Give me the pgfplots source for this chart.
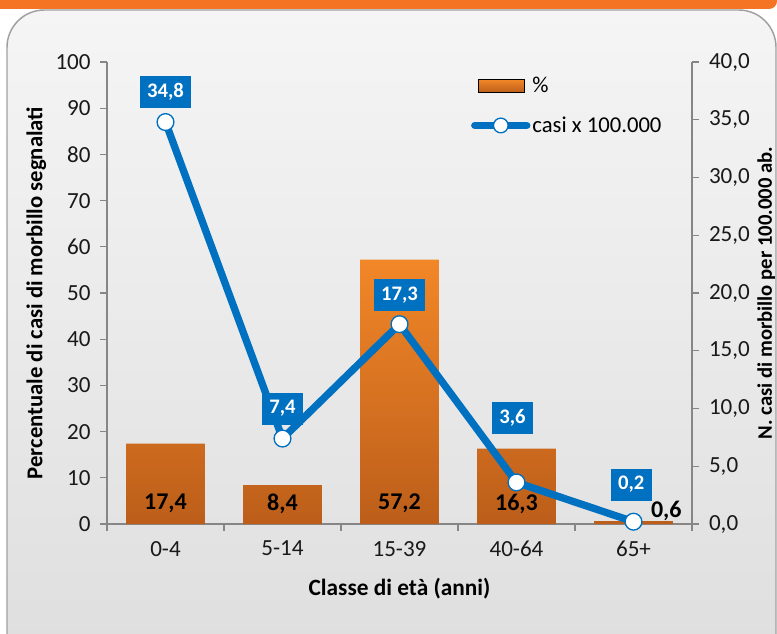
\documentclass[border=0pt]{standalone}
\usepackage{fontspec}
\setmainfont{Carlito}
\usepackage{pgfplots}
\usepackage{pgfplotstable}
\pgfplotsset{compat=1.18}

\definecolor{barTop}{RGB}{242,135,40}
\definecolor{barBot}{RGB}{188,94,26}
\definecolor{lineBlue}{RGB}{0,112,192}
\definecolor{axGray}{RGB}{134,134,134}
\definecolor{stripOr}{RGB}{244,116,36}
\definecolor{panTop}{RGB}{245,245,245}
\definecolor{panBot}{RGB}{222,222,222}
\definecolor{panBorder}{RGB}{160,160,160}

\pgfplotstableread{
x y
0 17.4
1 8.4
2 57.2
3 16.3
4 0.6
}\bardata

\pgfplotstableread{
x y
0 34.8
1 7.4
2 17.3
3 3.6
4 0.2
}\linedata

\pgfplotstableread{
x y label
0 4.4 17,4
1 4.4 8,4
2 4.4 57,2
3 4.4 16,3
4.28 2.8 0,6
}\barlabels

\pgfplotstableread{
x y label
0 37.4 34,8
1 10.0 7,4
2 19.8 17,3
2.966 9.22 3,6
3.98 3.42 0,2
}\linelabels

\newcommand{\tickfont}{\fontsize{17.3}{20}\selectfont}
\newcommand{\legfont}{\fontsize{17}{20}\selectfont}
\newcommand{\barlabfont}{\bfseries\fontsize{18}{20}\selectfont}

\begin{document}
\begin{tikzpicture}[x=0.75pt,y=0.75pt]
\path[use as bounding box] (0,0) rectangle (777,633);
\begin{scope}
\clip (0,0) rectangle (777,633);
\fill[white] (0,0) rectangle (777,633);
\fill[stripOr, rounded corners=6] (-10,624) rectangle (777,660);
\draw[panBorder, line width=1.1pt, top color=panTop, bottom color=panBot, rounded corners=28] (7,-40) rectangle (776,623);
\end{scope}

\begin{axis}[
  at={(80.25pt,81.75pt)}, anchor=south west,
  scale only axis, width=438.75pt, height=346.5pt,
  xmin=-0.5, xmax=4.5, ymin=0, ymax=100,
  enlargelimits=false, clip=false,
  axis x line*=bottom, axis y line*=left,
  ytick={0,10,...,100},
  xtick={0,1,2,3,4},
  xticklabels={0-4,5-14,15-39,40-64,65+},
  minor xtick={-0.5,0.5,1.5,2.5,3.5,4.5},
  tick align=outside,
  major tick length=5.25pt, minor tick length=5.25pt,
  major x tick style={draw=none},
  axis line style={axGray, line width=0.9pt},
  tick style={axGray, line width=0.9pt},
  ticklabel style={font=\tickfont, text=black!90},
  yticklabel style={xshift=-3.5pt},
  xticklabel style={yshift=-4pt},
  /pgf/number format/assume math mode=true,
  ylabel={Percentuale di casi di morbillo segnalati},
  xlabel={Classe di età (anni)},
  ylabel style={at={(axis description cs:-0.121,0.5)}, anchor=center, font=\bfseries\fontsize{17}{20}\selectfont},
  xlabel style={at={(axis description cs:0.5,-0.139)}, anchor=center, font=\bfseries\fontsize{17.5}{20}\selectfont},
]
\addplot[ybar, bar width=0.675, draw=none, top color=barTop, bottom color=barBot] table[x=x,y=y]{\bardata};
\addplot[draw=none, mark=none, nodes near coords, point meta=explicit symbolic,
  every node near coord/.append style={anchor=center, font=\barlabfont, text=black}]
  table[x=x,y=y,meta=label]{\barlabels};
\end{axis}

\begin{axis}[
  at={(80.25pt,81.75pt)}, anchor=south west,
  scale only axis, width=438.75pt, height=346.5pt,
  xmin=-0.5, xmax=4.5, ymin=0, ymax=40,
  enlargelimits=false, clip=false,
  hide x axis, axis y line*=right,
  ytick={0,5,...,40},
  yticklabel={\pgfmathprintnumber[fixed, fixed zerofill, precision=1, use comma]{\tick}},
  tick align=outside,
  major tick length=5.25pt,
  axis line style={axGray, line width=0.9pt},
  tick style={axGray, line width=0.9pt},
  ticklabel style={font=\tickfont, text=black!90},
  yticklabel style={xshift=4pt},
  /pgf/number format/assume math mode=true,
  ylabel={N. casi di morbillo per 100.000 ab.},
  every axis y label/.style={at={(axis description cs:1.127,0.5)}, anchor=center, rotate=90, font=\bfseries\fontsize{15.5}{18}\selectfont},
  legend style={at={(axis description cs:0.622,0.972)}, anchor=north west, draw=none, fill=none,
    font=\legfont, row sep=13.5pt, inner sep=0pt, nodes={inner sep=1.5pt}},
  legend cell align=left,
]
\addlegendimage{legend image code/.code={\fill[top color=barTop,bottom color=barBot] (2.5pt,-5pt) rectangle (37pt,5pt);}}
\addlegendentry{\%}
\addplot[lineBlue, line width=5.5pt, line join=round, mark=*, mark size=6.3pt,
  mark options={fill=white, draw=lineBlue, line width=1pt},
  legend image code/.code={\draw[lineBlue, line width=5.5pt, line cap=round] (0pt,0pt) -- (39pt,0pt); \draw[fill=white, draw=lineBlue, line width=1pt] (19.5pt,0pt) circle (5.5pt);}]
  table[x=x,y=y]{\linedata};
\addlegendentry{casi x 100.000}
\addplot[draw=none, mark=none, nodes near coords, point meta=explicit symbolic,
  every node near coord/.append style={anchor=center, fill=lineBlue, text=white,
    font=\bfseries\fontsize{15.5}{18}\selectfont, inner xsep=5.5pt, minimum height=24pt}]
  table[x=x,y=y,meta=label]{\linelabels};
\end{axis}
\end{tikzpicture}
\end{document}
